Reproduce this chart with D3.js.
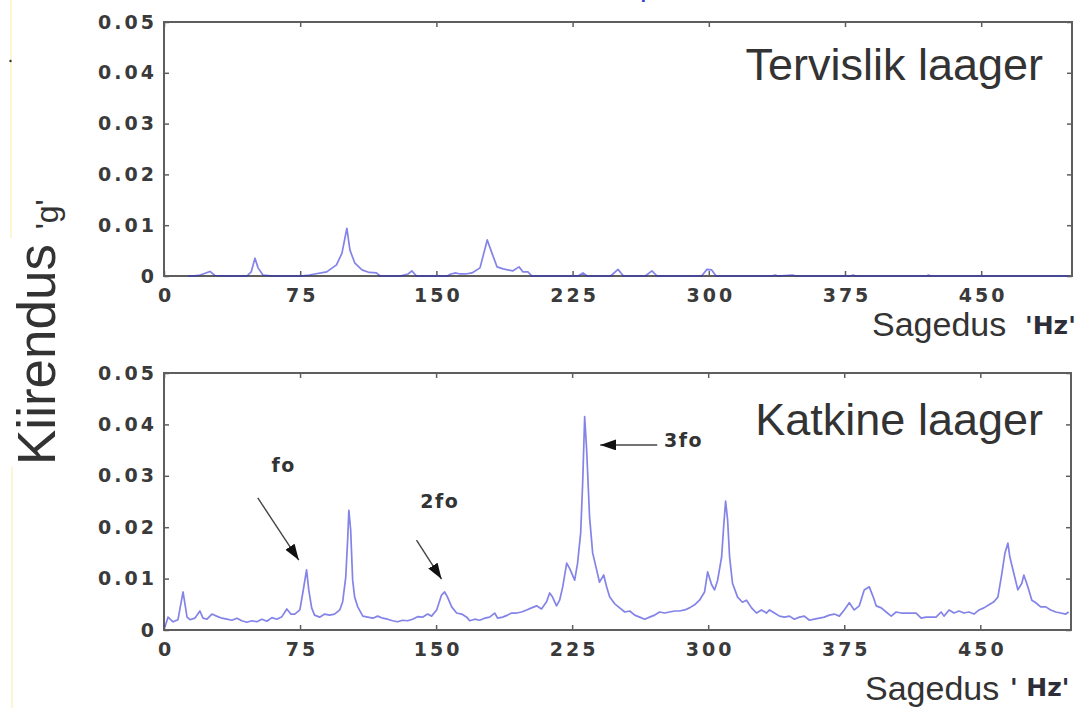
<!DOCTYPE html>
<html>
<head>
<meta charset="utf-8">
<script src="https://cdn.jsdelivr.net/npm/d3@7"></script>
<style>
body { margin: 0; background: #fff; }
svg { display: block; }
</style>
</head>
<body>
<div id="viz"></div>
<script>
// axis ticks
const xTicks = [0, 75, 150, 225, 300, 375, 450];
const yTicks = [0, 0.01, 0.02, 0.03, 0.04, 0.05];
const yTickLabels = ["0", "0.01", "0.02", "0.03", "0.04", "0.05"];
const panelTitles = ["Tervislik laager", "Katkine laager"];

// healthy bearing spectrum [Hz, g]
const healthy = [
  [13.2,0],[16,0],[20,0.0002],[25.3,0.0009],[28,0.0001],[35,0],[45.7,0],[48,0.0008],[50.1,0.0035],
  [51.8,0.0016],[54.5,0.0002],[60,0],[75,0],[80,0.0002],[83,0.0004],[89.6,0.0008],[95,0.0022],
  [98,0.0045],[100.7,0.0094],[102.4,0.0051],[105,0.0026],[109,0.0012],[113,0.0007],[117,0.0006],
  [119,0],[130,0],[134.4,0.0004],[136.5,0.001],[139,0],[150,0],[156,0],[158,0.0004],[160.8,0.0006],
  [163,0.0004],[166,0.0004],[169.6,0.0006],[174,0.0016],[178,0.0071],[180.6,0.0045],[183.4,0.0018],
  [186.7,0.0014],[192,0.001],[195.5,0.0018],[197.7,0.0008],[200.4,0.0008],[202.6,0],[228,0],
  [230.7,0.0006],[233,0],[246,0],[250,0.0013],[253,0],[265,0],[268.7,0.001],[271.5,0],[296,0],
  [299,0.0013],[301.6,0.0012],[304,0],[335,0],[336.5,0.0002],[338,0],[346,0.0002],[348,0],[378,0],
  [379.5,0.0002],[381,0],[420,0],[421,0.0002],[422,0],[498,0]
];

// broken bearing spectrum [Hz, g]
const faulty = [
  [0.5,0.0006],[2.2,0.0025],[5,0.0016],[7.7,0.002],[10.5,0.0074],[12.7,0.0025],[14.3,0.002],[17,0.0023],
  [19.8,0.0037],[21.5,0.0023],[23.7,0.0021],[26.4,0.0031],[29,0.0027],[31.9,0.0023],[34.7,0.0021],
  [37.4,0.0019],[40.2,0.0023],[42.9,0.0018],[45.7,0.0015],[48.4,0.0018],[51.2,0.0016],[54,0.0021],
  [56.7,0.0017],[59.5,0.0024],[62.2,0.0021],[65,0.0026],[67.7,0.0041],[69.9,0.0031],[72.1,0.0031],
  [74.9,0.0039],[76.5,0.0072],[78.6,0.0117],[79.8,0.0078],[81.4,0.0043],[83,0.0029],[85.8,0.0025],
  [88.6,0.0031],[91.3,0.0029],[94,0.0031],[96.9,0.0039],[98.5,0.0055],[100.2,0.0103],[101.3,0.018],
  [101.9,0.0233],[102.9,0.0195],[104,0.0097],[105.1,0.0064],[106.8,0.0045],[109.6,0.0027],
  [112.3,0.0025],[115.1,0.0023],[117.8,0.0027],[120.6,0.0023],[123.3,0.0021],[126,0.0018],
  [128.8,0.0016],[131.5,0.0019],[134.3,0.0018],[137,0.0021],[139.8,0.0026],[142.5,0.0025],
  [145.3,0.0031],[147.5,0.0027],[150.3,0.0039],[153,0.0068],[154.7,0.0074],[156.3,0.0064],
  [158.6,0.0045],[161.3,0.0033],[164.1,0.0031],[166.9,0.0025],[168.5,0.0018],[171.3,0.0021],
  [174,0.0019],[176.8,0.0023],[179.5,0.0025],[182.3,0.0033],[183.9,0.0023],[186.7,0.0025],
  [189.4,0.0029],[191.6,0.0033],[194.4,0.0033],[197.1,0.0035],[199.9,0.0039],[202.6,0.0043],
  [205.4,0.0047],[208.1,0.0041],[210.9,0.0055],[212.6,0.0072],[214.2,0.0064],[216.4,0.0047],
  [218.1,0.0058],[219.8,0.0084],[222,0.013],[223.6,0.012],[226.4,0.0097],[228,0.013],[229.7,0.0189],
  [230.8,0.0286],[231.9,0.0415],[233,0.035],[234.6,0.022],[236.3,0.015],[238.5,0.0117],[240.1,0.0093],
  [242.4,0.0107],[244,0.0084],[245.7,0.0064],[248.5,0.0051],[251.2,0.0043],[254,0.0035],[256.7,0.0037],
  [259.5,0.0029],[262.2,0.0025],[265,0.0021],[267.7,0.0025],[270.5,0.0029],[273.2,0.0035],[276,0.0033],
  [278.7,0.0035],[281.5,0.0037],[284.2,0.0037],[287,0.0039],[289.7,0.0043],[292.5,0.0049],
  [295.2,0.0058],[298,0.0074],[299.7,0.0113],[301.9,0.0088],[303.5,0.0078],[305.2,0.0097],
  [307.4,0.0142],[308.5,0.02],[309.6,0.0251],[310.7,0.0214],[311.8,0.0142],[313.4,0.0091],
  [316.2,0.0064],[318.9,0.0054],[321.1,0.0058],[323.9,0.0043],[326.6,0.0033],[329.4,0.0039],
  [332.1,0.0033],[333.8,0.0039],[336.5,0.0033],[339.3,0.0027],[342,0.0025],[344.8,0.0027],
  [347.5,0.0021],[350.3,0.0025],[353,0.0027],[355.8,0.0019],[358.5,0.0021],[361.3,0.0023],
  [364,0.0025],[366.8,0.0029],[369.5,0.0031],[372.3,0.0027],[375,0.0039],[377.8,0.0053],
  [380.5,0.0039],[383.3,0.0047],[386,0.0078],[388.8,0.0084],[391,0.0064],[392.6,0.0047],
  [395.4,0.0043],[398.1,0.0035],[400.9,0.0027],[403.6,0.0035],[406.4,0.0033],[409.1,0.0033],
  [411.9,0.0033],[414.6,0.0033],[417.4,0.0023],[420.1,0.0025],[422.9,0.0025],[425.6,0.0025],
  [428.4,0.0035],[430,0.0027],[432.8,0.0039],[435.5,0.0033],[438.3,0.0037],[441,0.0033],
  [443.8,0.0035],[446.5,0.0031],[449.3,0.0039],[452,0.0043],[454.8,0.0049],[457.5,0.0055],
  [459.7,0.0064],[461.9,0.011],[463.6,0.015],[465.2,0.0169],[466.3,0.0142],[468.5,0.011],
  [470.7,0.0078],[472.9,0.0091],[474,0.0107],[476.2,0.0084],[478.4,0.0058],[480.6,0.0053],
  [483.3,0.0045],[486.1,0.0045],[488.8,0.0039],[491.6,0.0035],[494.3,0.0033],[497.1,0.0031],
  [498.7,0.0035]
];

// peak annotations on the lower panel, in [Hz, g]
const peakLabels = ["fo", "2fo", "3fo"];
const peakTips = [[74.3, 0.0136], [153, 0.0099], [240.5, 0.036]];
const peakTails = [[51.7, 0.0257], [139.2, 0.0175], [271.9, 0.036]];
const peakLabelAt = [[66, 0.0307], [152, 0.0237], [275.7, 0.0356]];

const width = 1086;
const height = 708;
const left = 164;
const textFont = '"Liberation Sans", Arial, sans-serif';
const tickFont = '"DejaVu Sans", sans-serif';
const frameColor = '#5e5e5e';

const svg = d3.select('#viz')
  .append('svg')
    .attr('width', width)
    .attr('height', height);

svg.append('defs').append('marker')
    .attr('id', 'head')
    .attr('markerUnits', 'userSpaceOnUse')
    .attr('markerWidth', 16)
    .attr('markerHeight', 11)
    .attr('refX', 16)
    .attr('refY', 5.5)
    .attr('orient', 'auto')
  .append('path')
    .attr('d', 'M0,0L16,5.5L0,11Z')
    .attr('fill', '#111');

// pale page edge
svg.append('rect').attr('x', 10).attr('y', 0).attr('width', 2).attr('height', 238).attr('fill', '#fcf6d2');
svg.append('rect').attr('x', 11).attr('y', 467).attr('width', 2).attr('height', 241).attr('fill', '#fcf6d2');
svg.append('circle').attr('cx', 10.5).attr('cy', 61).attr('r', 1.2).attr('fill', '#333');

// cut-off glyph of the title above
svg.append('text')
    .attr('x', 640).attr('y', -4)
    .attr('font-family', textFont).attr('font-size', 30)
    .attr('fill', '#3a3ad0')
    .text('p');

const panels = [
  { data: healthy, top: 22, bottom: 276, right: 1072, titleY: 80 },
  { data: faulty, top: 373, bottom: 630, right: 1071, titleY: 435 }
];

panels.forEach((p, i) => {
  const xScale = d3.scaleLinear().domain([0, 500]).range([left, p.right]);
  const yScale = d3.scaleLinear().domain([0, 0.05]).range([p.bottom, p.top]);
  p.x = xScale;
  p.y = yScale;

  const g = svg.append('g');

  const styleAxis = sel => {
    sel.select('.domain').remove();
    sel.selectAll('.tick line').attr('stroke', frameColor).attr('stroke-width', 1.5);
    sel.selectAll('.tick text')
      .attr('font-family', tickFont)
      .attr('font-weight', 'bold')
      .attr('font-size', 19)
      .attr('letter-spacing', '3px')
      .attr('fill', '#3a3a3a');
  };

  g.append('g')
      .attr('transform', `translate(0, ${p.bottom})`)
      .call(d3.axisBottom(xScale).tickValues(xTicks).tickFormat(d3.format('d'))
        .tickSizeInner(-5).tickSizeOuter(0).tickPadding(13))
      .call(styleAxis)
      .selectAll('.tick text').attr('dx', '1.5px');

  g.append('g')
      .attr('transform', `translate(${left}, 0)`)
      .call(d3.axisLeft(yScale).tickValues(yTicks).tickFormat((d, k) => yTickLabels[k])
        .tickSizeInner(-5).tickSizeOuter(0).tickPadding(7))
      .call(styleAxis);

  g.append('g')
      .attr('transform', `translate(0, ${p.top})`)
      .call(d3.axisTop(xScale).tickValues(xTicks).tickFormat('').tickSizeInner(-5).tickSizeOuter(0))
      .call(styleAxis);

  g.append('g')
      .attr('transform', `translate(${p.right}, 0)`)
      .call(d3.axisRight(yScale).tickValues(yTicks).tickFormat('').tickSizeInner(-5).tickSizeOuter(0))
      .call(styleAxis);

  g.append('rect')
      .attr('x', left)
      .attr('y', p.top)
      .attr('width', p.right - left)
      .attr('height', p.bottom - p.top)
      .attr('fill', 'none')
      .attr('stroke', frameColor)
      .attr('stroke-width', 2);

  const line = d3.line()
      .x(d => xScale(d[0]))
      .y(d => yScale(d[1]));

  g.append('path')
      .datum(p.data)
      .attr('d', line)
      .attr('fill', 'none')
      .attr('stroke', '#2a2ad8')
      .attr('stroke-opacity', 0.58)
      .attr('stroke-width', 1.7)
      .attr('stroke-linejoin', 'round');

  g.append('text')
      .attr('x', 1043)
      .attr('y', p.titleY)
      .attr('text-anchor', 'end')
      .attr('font-family', textFont)
      .attr('font-size', 45)
      .attr('fill', '#333')
      .text(panelTitles[i]);
});

// x axis titles
svg.append('text')
    .attr('x', 872).attr('y', 336)
    .attr('font-family', textFont).attr('font-size', 34).attr('fill', '#333')
    .text('Sagedus');
svg.append('text')
    .attr('x', 1025).attr('y', 334)
    .attr('font-family', tickFont).attr('font-weight', 'bold').attr('font-size', 25)
    .attr('fill', '#2e2e3a')
    .text("'Hz'");

svg.append('text')
    .attr('x', 865).attr('y', 700)
    .attr('font-family', textFont).attr('font-size', 34).attr('fill', '#333')
    .text('Sagedus');
svg.append('text')
    .attr('x', 1010).attr('y', 696)
    .attr('font-family', tickFont).attr('font-weight', 'bold').attr('font-size', 25)
    .attr('fill', '#2e2e3a')
    .attr('xml:space', 'preserve')
    .text("' Hz'");

// y axis title
const yTitle = svg.append('text')
    .attr('transform', 'translate(55, 465) rotate(-90)')
    .attr('font-family', textFont)
    .attr('font-size', 53)
    .attr('fill', '#333')
    .text('Kiirendus ');
yTitle.append('tspan')
    .attr('font-size', 32)
    .attr('dy', 3)
    .text("'g'");

// peak arrows on the broken bearing panel
const low = panels[1];
peakLabels.forEach((lab, k) => {
  svg.append('line')
      .attr('x1', low.x(peakTails[k][0])).attr('y1', low.y(peakTails[k][1]))
      .attr('x2', low.x(peakTips[k][0])).attr('y2', low.y(peakTips[k][1]))
      .attr('stroke', '#444')
      .attr('stroke-width', 1.4)
      .attr('marker-end', 'url(#head)');
  svg.append('text')
      .attr('x', low.x(peakLabelAt[k][0]))
      .attr('y', low.y(peakLabelAt[k][1]))
      .attr('text-anchor', k === 2 ? 'start' : 'middle')
      .attr('font-family', tickFont)
      .attr('font-weight', 'bold')
      .attr('font-size', 19)
      .attr('letter-spacing', '1.5px')
      .attr('fill', '#333')
      .text(lab);
});
</script>
</body>
</html>
